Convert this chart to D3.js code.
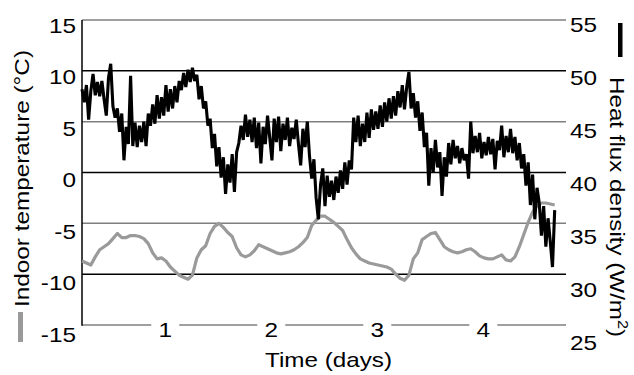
<!DOCTYPE html>
<html>
<head>
<meta charset="utf-8">
<script src="https://cdn.jsdelivr.net/npm/d3@7"></script>
<style>
  html, body { margin: 0; padding: 0; background: #fff; }
  svg { display: block; font-family: "Liberation Sans", Arial, sans-serif; }
</style>
</head>
<body>
<svg id="chart" width="634" height="375"></svg>
<script>
// ---------- data ----------
const startDay = 0.215;          // first sample (days)
const heatFluxStepHours = 0.5;   // heat flux sampled every 30 min
const tempStepHours = 1;         // indoor temperature sampled hourly

// Heat flux density (W/m²), right axis
const heatFlux = [
  48.2, 46.9, 48.6, 45.2, 48.0, 49.7, 47.6, 48.9, 47.5, 49.0,
  47.2, 45.6, 49.3, 50.7, 46.5, 45.4, 46.3, 44.0, 45.8, 41.2,
  44.5, 42.8, 49.5, 42.6, 44.9, 42.5, 44.6, 43.0, 45.0, 42.6,
  45.8, 44.6, 46.7, 44.8, 47.6, 45.3, 47.4, 45.6, 48.6, 46.0,
  48.2, 46.3, 48.5, 46.9, 49.0, 48.1, 49.8, 48.4, 50.1, 48.9,
  50.3, 49.0, 49.6, 47.2, 48.5, 46.3, 47.0, 44.6, 45.3, 42.4,
  43.8, 40.6, 42.5, 39.5, 41.5, 37.9, 40.8, 39.0, 41.8, 38.1,
  42.0, 42.9, 44.6, 43.2, 45.7, 43.5, 45.2, 43.0, 45.4, 42.4,
  44.9, 40.9, 44.5, 42.8, 45.6, 43.4, 41.2, 45.3, 43.0, 45.5,
  42.1, 44.8, 43.2, 45.4, 42.6, 44.4, 43.3, 45.2, 42.8, 40.7,
  44.3, 42.5, 45.0, 41.6, 39.4, 41.3, 37.5, 35.4, 38.8, 40.4,
  36.7, 39.7, 37.6, 39.2, 37.3, 39.6, 38.0, 40.2, 38.4, 41.0,
  38.8, 41.2, 40.3, 45.4, 43.0, 45.6, 42.6, 44.8, 43.0, 45.9,
  43.4, 46.2, 44.2, 46.0, 44.3, 46.6, 44.5, 46.9, 45.0, 47.3,
  45.3, 47.5, 45.6, 48.0, 46.4, 48.6, 46.2, 48.4, 49.9, 46.3,
  47.8, 45.4, 47.0, 44.1, 45.9, 42.5, 43.9, 38.7, 42.4, 40.0,
  43.2, 40.5, 42.0, 37.7, 41.5, 39.6, 42.9, 40.8, 43.2, 41.4,
  42.6, 40.9, 42.4, 41.2, 41.8, 39.4, 45.0, 41.9, 43.6, 42.0,
  43.9, 41.4, 43.0, 41.7, 43.5, 41.8, 43.3, 40.3, 43.1, 42.2,
  44.6, 41.5, 43.6, 42.0, 44.3, 41.9, 43.5, 41.2, 42.9, 40.4,
  41.8, 38.7, 41.0, 36.8, 39.8, 35.4, 38.5, 37.0, 33.8, 36.7,
  32.7, 35.5, 33.2, 30.7, 36.3
];

// Indoor temperature (°C), left axis
const indoorTemp = [
  -8.7, -8.9, -9.1, -8.3, -7.6, -7.3, -7.0, -6.5, -6.0, -6.4,
  -6.4, -6.2, -6.2, -6.3, -6.5, -7.0, -7.9, -8.5, -8.4, -8.7,
  -9.3, -9.7, -10.1, -10.3, -10.5, -10.1, -8.4, -7.6, -7.2, -6.0,
  -5.3, -5.0, -5.4, -5.9, -6.3, -7.4, -8.1, -8.3, -8.1, -7.7,
  -7.1, -7.3, -7.5, -7.7, -7.9, -8.0, -7.9, -7.8, -7.6, -7.3,
  -6.9, -6.4, -5.2, -4.7, -4.3, -4.3, -4.6, -4.9, -5.3, -5.7,
  -6.6, -7.4, -8.0, -8.5, -8.7, -8.9, -9.0, -9.1, -9.2, -9.3,
  -9.5, -10.0, -10.4, -10.6, -10.1, -8.5, -7.9, -6.6, -6.3, -6.0,
  -5.9, -6.6, -7.3, -7.6, -7.8, -7.9, -7.8, -7.6, -7.5, -7.8,
  -8.2, -8.4, -8.5, -8.5, -8.3, -8.1, -8.6, -8.7, -8.3, -7.3,
  -6.1, -4.9, -3.9, -3.3, -3.0, -3.0, -3.1, -3.2
];

const dayTicks = [1, 2, 3, 4];
const dayLabels = ["1", "2", "3", "4"];
const tempTicks = [15, 10, 5, 0, -5, -10, -15];
const fluxTicks = [55, 50, 45, 40, 35, 30, 25];

const xTitle = "Time (days)";
const leftTitle = "Indoor temperature (°C)";

// ---------- layout ----------
const svg = d3.select("#chart");
const L = 82, R = 566, T = 20, B = 325;
const FS = 21;
const stretch = 1.16;

const x = d3.scaleLinear().domain([0.215, 4.78]).range([L, R]);
const yT = d3.scaleLinear().domain([-15, 15]).range([B, T]);
const yF = d3.scaleLinear().domain([25, 55]).range([B, T]);
// label placement scales (labels sit slightly below their gridlines)
const yTLabel = d3.scaleLinear().domain([-15, 15]).range([334, 25]);
const yFLabel = d3.scaleLinear().domain([25, 55]).range([342, 24]);

// gridlines (alternating grey / black)
const gridColor = (v, i) => (i % 2 === 0 ? "#7f7f7f" : "#000");
svg.append("g").selectAll("line").data(tempTicks.slice(0, -1)).join("line")
  .attr("x1", L).attr("x2", R)
  .attr("y1", d => yT(d)).attr("y2", d => yT(d))
  .attr("stroke", gridColor).attr("stroke-width", 1.5);

// bottom axis line (grey), broken by tick labels
svg.append("line").attr("x1", L).attr("x2", R).attr("y1", yT(-15)).attr("y2", yT(-15))
  .attr("stroke", "#7f7f7f").attr("stroke-width", 1.5);

// left axis line
svg.append("line").attr("x1", L).attr("x2", L).attr("y1", T).attr("y2", B + 0.75)
  .attr("stroke", "#000").attr("stroke-width", 1.5);

// ---------- series ----------
const tempLine = d3.line()
  .x((d, i) => x(startDay + i * tempStepHours / 24))
  .y(d => yT(d));
svg.append("path").datum(indoorTemp)
  .attr("d", tempLine)
  .attr("fill", "none").attr("stroke", "#9a9a9a")
  .attr("stroke-width", 3.2).attr("stroke-linejoin", "round");

const fluxLine = d3.line()
  .x((d, i) => x(startDay + i * heatFluxStepHours / 24))
  .y(d => yF(d));
svg.append("path").datum(heatFlux)
  .attr("d", fluxLine)
  .attr("fill", "none").attr("stroke", "#000")
  .attr("stroke-width", 3.1).attr("stroke-linejoin", "miter").attr("stroke-miterlimit", 3);

// ---------- x tick labels embedded in bottom line ----------
const xg = svg.append("g");
xg.selectAll("rect").data(dayTicks).join("rect")
  .attr("x", d => x(d) - 14).attr("y", yT(-15) - 4)
  .attr("width", 28).attr("height", 8).attr("fill", "#fff");
xg.selectAll("text").data(dayTicks).join("text")
  .attr("transform", d => `translate(${x(d)},${336.5}) scale(${stretch},1)`)
  .attr("text-anchor", "middle").attr("font-size", FS).attr("fill", "#000")
  .text((d, i) => dayLabels[i]);

// ---------- y tick labels ----------
svg.append("g").selectAll("text").data(tempTicks).join("text")
  .attr("transform", d => `translate(76,${yTLabel(d) + 7.5}) scale(${stretch},1)`)
  .attr("text-anchor", "end").attr("font-size", FS).attr("fill", "#000")
  .text(d => d);

svg.append("g").selectAll("text").data(fluxTicks).join("text")
  .attr("transform", d => `translate(570,${yFLabel(d) + 7.5}) scale(${stretch},1)`)
  .attr("text-anchor", "start").attr("font-size", FS).attr("fill", "#000")
  .text(d => d);

// ---------- axis titles ----------
svg.append("text")
  .attr("x", 328.5).attr("y", 367)
  .attr("text-anchor", "middle").attr("font-size", FS)
  .attr("textLength", 127).attr("lengthAdjust", "spacingAndGlyphs")
  .text(xTitle);

svg.append("text")
  .attr("transform", "translate(29,178.5) rotate(-90)")
  .attr("text-anchor", "middle").attr("font-size", FS)
  .attr("textLength", 257).attr("lengthAdjust", "spacingAndGlyphs")
  .text(leftTitle);

const rt = svg.append("text")
  .attr("transform", "translate(610,207) rotate(90)")
  .attr("text-anchor", "middle").attr("font-size", FS)
  .attr("textLength", 260).attr("lengthAdjust", "spacingAndGlyphs");
rt.append("tspan").text("Heat flux density (W/m");
rt.append("tspan").attr("baseline-shift", "super").attr("font-size", 14).text("2");
rt.append("tspan").text(")");

// legend markers
svg.append("rect").attr("x", 18).attr("y", 312).attr("width", 5).attr("height", 30).attr("fill", "#9a9a9a");
svg.append("rect").attr("x", 618).attr("y", 23).attr("width", 4.5).attr("height", 34).attr("fill", "#000");
</script>
</body>
</html>
